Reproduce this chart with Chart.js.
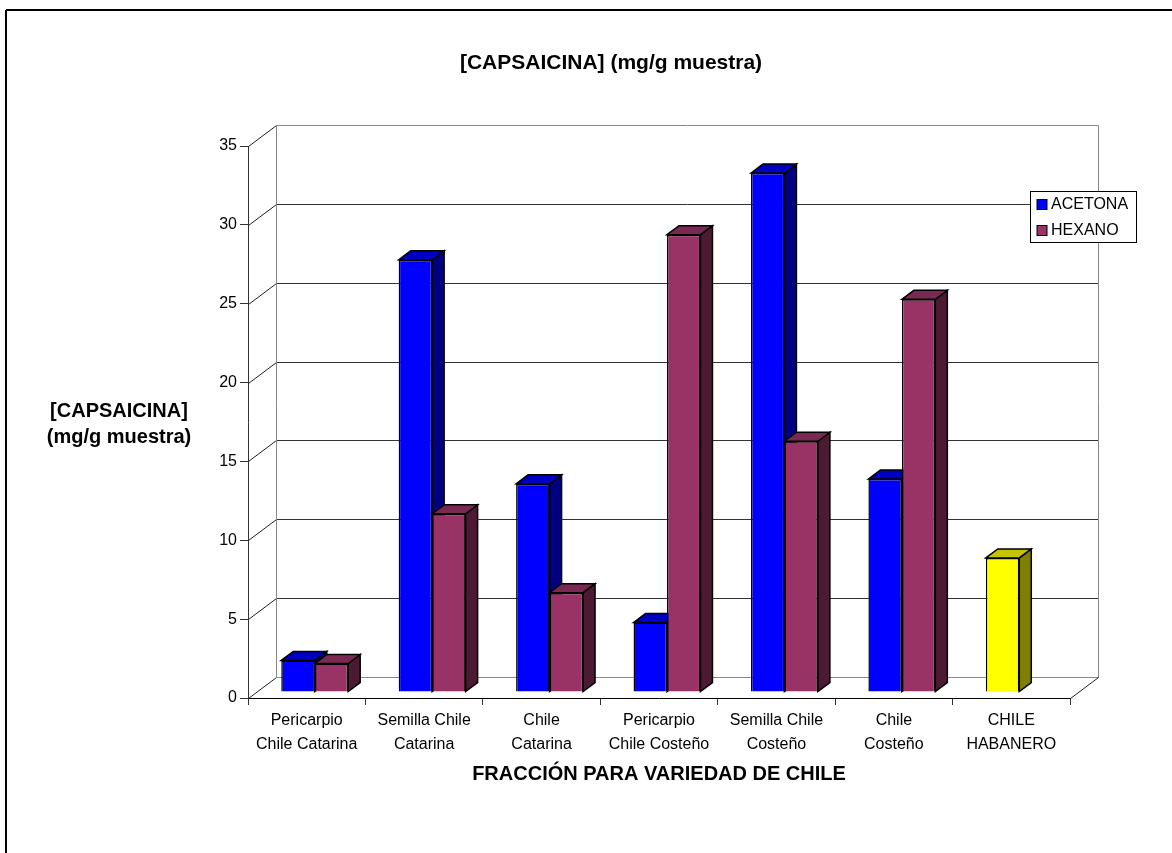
<!DOCTYPE html>
<html>
<head>
<meta charset="utf-8">
<script src="https://cdn.jsdelivr.net/npm/chart.js@4.4.1/dist/chart.umd.min.js"></script>
<style>
html,body{margin:0;padding:0;background:#fff;}
#wrap{position:relative;width:1172px;height:853px;}
</style>
</head>
<body>
<div id="wrap"><canvas id="myChart" width="1172" height="853"></canvas></div>
<script>
// datos
const categorias = [
	['Pericarpio', 'Chile Catarina'],
	['Semilla Chile', 'Catarina'],
	['Chile', 'Catarina'],
	['Pericarpio', 'Chile Costeño'],
	['Semilla Chile', 'Costeño'],
	['Chile', 'Costeño'],
	['CHILE', 'HABANERO']
]
const series = ['ACETONA', 'HEXANO']
const acetona = [2.0, 27.4, 13.2, 4.4, 32.9, 13.5, 8.5]
const hexano = [1.8, 11.3, 6.3, 29.0, 15.9, 24.9, null]
const ticksY = [0, 5, 10, 15, 20, 25, 30, 35]

const titulo = '[CAPSAICINA] (mg/g muestra)'
const tituloY = ['[CAPSAICINA]', '(mg/g muestra)']
const tituloX = 'FRACCIÓN PARA VARIEDAD DE CHILE'

const fuente = 'Liberation Sans, Arial, sans-serif'

// colores: frente, lado, tapa
const azul = ['#0000ff', '#000080', '#0000c4']
const vino = ['#993366', '#4d1a33', '#7a2952']
const amarillo = ['#ffff00', '#808000', '#c4c400']

function coloresAcetona(){
	let c = []
	for (let x = 0; x < acetona.length; x++){
		c.push(categorias[x][0] == 'CHILE' ? amarillo : azul)
	}
	return c
}
const colAcetona = coloresAcetona()
const colHexano = hexano.map(() => vino)

// profundidad de las paredes y de las barras (px)
const pared = {dx: 28, dy: -21}
const barra = {dx: 8, dy: -6, px: 12, py: -9}

function linea(ctx, x1, y1, x2, y2, color){
	ctx.beginPath()
	ctx.strokeStyle = color
	ctx.moveTo(x1, y1)
	ctx.lineTo(x2, y2)
	ctx.stroke()
}

function poligono(ctx, pts, fill){
	ctx.beginPath()
	ctx.moveTo(pts[0][0], pts[0][1])
	for (let i = 1; i < pts.length; i++) ctx.lineTo(pts[i][0], pts[i][1])
	ctx.closePath()
	ctx.fillStyle = fill
	ctx.fill()
	ctx.stroke()
}

const tresD = {
	id: 'tresD',
	beforeDatasetsDraw(chart){
		const ctx = chart.ctx
		const xs = chart.scales.x, ys = chart.scales.y
		const x0 = Math.round(xs.left) + 0.5, x1 = Math.round(xs.right) + 0.5
		ctx.save()
		ctx.lineWidth = 1
		const yTop = ys.getPixelForValue(ticksY[ticksY.length - 1])
		const yBase = ys.getPixelForValue(0)
		ticksY.forEach(v => {
			const y = Math.round(ys.getPixelForValue(v)) + 0.5
			const borde = (v == 0 || v == ticksY[ticksY.length - 1])
			linea(ctx, x0, y, x0 + pared.dx, y + pared.dy, '#222')
			linea(ctx, x0 + pared.dx, y + pared.dy, x1 + pared.dx, y + pared.dy, borde ? '#888' : '#333')
		})
		linea(ctx, x0 + pared.dx, Math.round(yTop) + 0.5 + pared.dy, x0 + pared.dx, Math.round(yBase) + 0.5 + pared.dy, '#888')
		linea(ctx, x1 + pared.dx, Math.round(yTop) + 0.5 + pared.dy, x1 + pared.dx, Math.round(yBase) + 0.5 + pared.dy, '#888')
		linea(ctx, x1, Math.round(yBase) + 0.5, x1 + pared.dx, Math.round(yBase) + 0.5 + pared.dy, '#222')
		ctx.restore()

		// las barras van un poco hacia el fondo
		ctx.save()
		ctx.translate(barra.dx, barra.dy)
		ctx.lineWidth = 1.5
		ctx.strokeStyle = '#000'
		ctx.lineJoin = 'miter'
		const cols = [colAcetona, colHexano]
		chart.data.datasets.forEach((ds, i) => {
			const meta = chart.getDatasetMeta(i)
			meta.data.forEach((el, j) => {
				if (ds.data[j] == null) return
				const L = el.x - el.width / 2, R = el.x + el.width / 2
				const T = el.y, B = el.base
				const c = cols[i][j]
				ctx.strokeStyle = '#000'
				poligono(ctx, [[R, T], [R + barra.px, T + barra.py], [R + barra.px, B + barra.py], [R, B]], c[1])
				poligono(ctx, [[L, T], [L + barra.px, T + barra.py], [R + barra.px, T + barra.py], [R, T]], c[2])
			})
		})
	},
	afterDatasetsDraw(chart){
		chart.ctx.restore()
	},
	afterDraw(chart){
		const ctx = chart.ctx
		const xs = chart.scales.x, ys = chart.scales.y
		ctx.save()
		ctx.fillStyle = '#000'
		ctx.textAlign = 'center'
		ctx.textBaseline = 'middle'
		ctx.font = 'bold 21px ' + fuente
		ctx.fillText(titulo, 611, 63)
		ctx.font = 'bold 20px ' + fuente
		ctx.fillText(tituloX, (xs.left + xs.right) / 2, 774)
		const cy = (ys.top + ys.bottom) / 2
		ctx.fillText(tituloY[0], 119, cy - 11)
		ctx.fillText(tituloY[1], 119, cy + 15)

		// leyenda
		const lx = 1030.5, ly = 191.5, lw = 106, lh = 51
		ctx.fillStyle = '#fff'
		ctx.fillRect(lx, ly, lw, lh)
		ctx.lineWidth = 1
		ctx.strokeStyle = '#000'
		ctx.strokeRect(lx, ly, lw, lh)
		ctx.font = '16px ' + fuente
		ctx.textAlign = 'left'
		const marcas = [azul[0], vino[0]]
		series.forEach((s, i) => {
			const y = 205 + i * 26
			ctx.fillStyle = marcas[i]
			ctx.fillRect(1037, y - 5.5, 10, 10)
			ctx.strokeRect(1037, y - 5.5, 10, 10)
			ctx.fillStyle = '#000'
			ctx.fillText(s, 1051, y)
		})

		// marco
		ctx.lineWidth = 2
		linea(ctx, 6, 10, 1172, 10, '#000')
		linea(ctx, 6, 10, 6, 853, '#000')
		ctx.restore()
	}
}

new Chart(document.getElementById('myChart').getContext('2d'), {
	type: 'bar',
	data: {
		labels: categorias,
		datasets: [{
			label: series[0],
			data: acetona,
			backgroundColor: colAcetona.map(c => c[0]),
			borderColor: '#000',
			borderWidth: 1.5,
			categoryPercentage: 0.57,
			barPercentage: 1.0
		}, {
			label: series[1],
			data: hexano,
			backgroundColor: colHexano.map(c => c[0]),
			borderColor: '#000',
			borderWidth: 1.5,
			categoryPercentage: 0.57,
			barPercentage: 1.0
		}]
	},
	options: {
		responsive: false,
		animation: false,
		devicePixelRatio: 1,
		layout: {padding: {top: 146, right: 102, bottom: 0, left: 0}},
		plugins: {legend: {display: false}, tooltip: {enabled: false}, title: {display: false}},
		scales: {
			x: {
				grid: {offset: true, drawOnChartArea: false, tickLength: 7, color: '#333'},
				border: {color: '#000', width: 1},
				ticks: {color: '#000', font: {family: fuente, size: 16, lineHeight: 1.5}, padding: 4, maxRotation: 0, autoSkip: false},
				afterFit: s => { s.height = 155 }
			},
			y: {
				min: 0,
				max: 35,
				grid: {drawOnChartArea: false, tickLength: 8, color: '#333'},
				border: {color: '#333', width: 1},
				ticks: {stepSize: 5, color: '#000', font: {family: fuente, size: 16}, padding: 3},
				afterFit: s => { s.width = 248 }
			}
		}
	},
	plugins: [tresD]
})
</script>
</body>
</html>
